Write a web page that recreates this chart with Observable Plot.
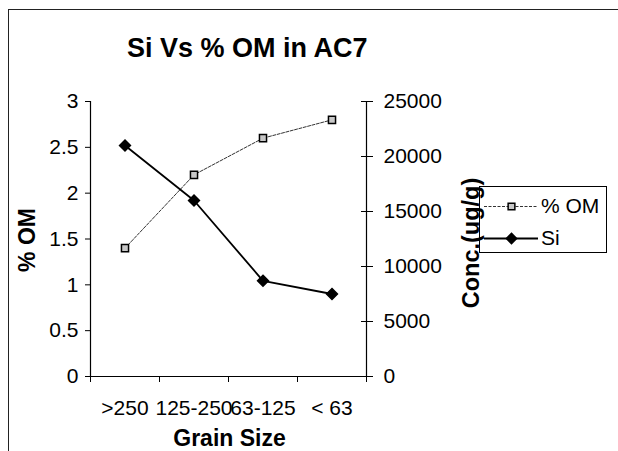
<!DOCTYPE html>
<html>
<head>
<meta charset="utf-8">
<script src="https://cdn.jsdelivr.net/npm/d3@7"></script>
<script src="https://cdn.jsdelivr.net/npm/@observablehq/plot@0.6"></script>
<style>
  html, body { margin: 0; padding: 0; background: #fff; }
  #wrap { position: relative; width: 618px; height: 451px; overflow: hidden; font-family: "Liberation Sans", Arial, sans-serif; background: #fff; }
  #frame { position: absolute; left: 8px; top: 9px; right: -2px; bottom: -2px; border-left: 1.5px solid #222; border-top: 1.5px solid #222; }
  #title { position: absolute; left: 127px; top: 35px; line-height: 27px; white-space: nowrap; font-weight: bold; font-size: 27px; color: #000; }
  #legend { position: absolute; left: 479px; top: 186px; width: 128px; height: 67px; border: 1.2px solid #000; background: transparent; box-sizing: border-box; font-size: 21px; }
  #legend .row { position: absolute; left: 0; height: 26px; display: flex; align-items: center; }
  #legend svg { display: block; }
  #chart { position: absolute; left: 0; top: 0; }
</style>
</head>
<body>
<div id="wrap">
  <div id="frame"></div>
  <div id="chart"></div>
  <div id="title">Si Vs % OM in AC7</div>
  <div id="legend"></div>
</div>
<script>
// ---- data ----
const categories = [">250", "125-250", "63-125", "< 63"];
const omValues = [1.4, 2.2, 2.6, 2.8];          // % OM (left axis)
const siValues = [21000, 16000, 8700, 7500];     // Si conc. ug/g (right axis)
const leftTicks = [0, 0.5, 1, 1.5, 2, 2.5, 3];
const rightTicks = [0, 5000, 10000, 15000, 20000, 25000];
const leftMax = 3;
const rightMax = 25000;

const toLeft = v => v / rightMax * leftMax;
const om = categories.map((c, i) => ({i: i + 0.5, v: omValues[i]}));
const si = categories.map((c, i) => ({i: i + 0.5, v: toLeft(siValues[i])}));
const boundaries = d3.range(categories.length + 1);
const centers = categories.map((c, i) => i + 0.5);

const font = "Liberation Sans, Arial, sans-serif";

const chart = Plot.plot({
  width: 618,
  height: 451,
  marginLeft: 90,
  marginRight: 252,
  marginTop: 101,
  marginBottom: 75,
  style: {fontFamily: font, fontSize: "21px", color: "#000", background: "transparent"},
  x: {type: "linear", domain: [0, categories.length]},
  y: {domain: [0, leftMax]},
  marks: [
    // left axis
    Plot.axisY(leftTicks, {anchor: "left", tickSize: 5, tickPadding: 7, fontSize: 21, label: null, tickFormat: d => String(d)}),
    // right axis: crossing ticks + labels
    Plot.axisY(rightTicks.map(toLeft), {anchor: "right", tickSize: 12, dx: -6, tickFormat: () => "", label: null}),
    Plot.axisY(rightTicks.map(toLeft), {anchor: "right", tickSize: 0, tickPadding: 17, fontSize: 21, label: null, tickFormat: d => String(Math.round(d / leftMax * rightMax))}),
    // bottom axis ticks at band boundaries, labels at centers
    Plot.axisX(boundaries, {anchor: "bottom", tickSize: 6, tickFormat: () => "", label: null}),
    Plot.axisX(centers, {anchor: "bottom", tickSize: 0, tickPadding: 24, fontSize: 21, label: null, tickFormat: d => categories[Math.floor(d)]}),
    Plot.ruleX([0, categories.length], {stroke: "#000", strokeWidth: 1.2}),
    Plot.ruleY([0], {stroke: "#000", strokeWidth: 1.2}),
    // axis titles
    Plot.text(["% OM"], {frameAnchor: "left", textAnchor: "middle", lineAnchor: "middle", dx: -63, dy: 1, rotate: -90, fontWeight: "bold", fontSize: 23}),
    Plot.text(["Conc.(ug/g)"], {frameAnchor: "right", textAnchor: "middle", lineAnchor: "middle", dx: 105, dy: 4, rotate: -90, fontWeight: "bold", fontSize: 23.5}),
    Plot.text(["Grain Size"], {frameAnchor: "bottom", textAnchor: "middle", lineAnchor: "middle", dx: 1, dy: 62, fontWeight: "bold", fontSize: 23}),
    // series
    Plot.line(om, {x: "i", y: "v", stroke: "#333", strokeWidth: 1, strokeDasharray: "3,1.5"}),
    Plot.line(si, {x: "i", y: "v", stroke: "#000", strokeWidth: 1.8}),
    Plot.dot(om, {x: "i", y: "v", symbol: "square", r: 4, fill: "#c8c8c8", stroke: "#000", strokeWidth: 1.5}),
    Plot.dot(si, {x: "i", y: "v", symbol: "diamond2", r: 4.9, fill: "#000", stroke: "#000"})
  ]
});
document.getElementById("chart").appendChild(chart);

// legend
const legendItems = [
  {label: "% OM", symbol: "square", dash: "3,1.5", stroke: "#333", fill: "#c8c8c8", r: 3.8, lw: 1},
  {label: "Si", symbol: "diamond2", dash: null, stroke: "#000", fill: "#000", r: 4.6, lw: 1.8}
];
const legend = document.getElementById("legend");
legendItems.forEach((it, k) => {
  const row = document.createElement("div");
  row.className = "row";
  row.style.top = (k === 0 ? 6 : 38) + "px";
  const sw = Plot.plot({
    width: 54, height: 22, margin: 0,
    x: {domain: [0, 1], axis: null}, y: {domain: [0, 1], axis: null},
    style: {background: "transparent"},
    marks: [
      Plot.ruleY([0.5], {stroke: it.stroke, strokeWidth: it.lw, strokeDasharray: it.dash}),
      Plot.dot([{x: 0.5, y: 0.5}], {x: "x", y: "y", symbol: it.symbol, r: it.r, fill: it.fill, stroke: "#000", strokeWidth: 1.5})
    ]
  });
  sw.style.marginLeft = "4px";
  row.appendChild(sw);
  const t = document.createElement("span");
  t.textContent = it.label;
  t.style.marginLeft = "3px";
  row.appendChild(t);
  legend.appendChild(row);
});
</script>
</body>
</html>
